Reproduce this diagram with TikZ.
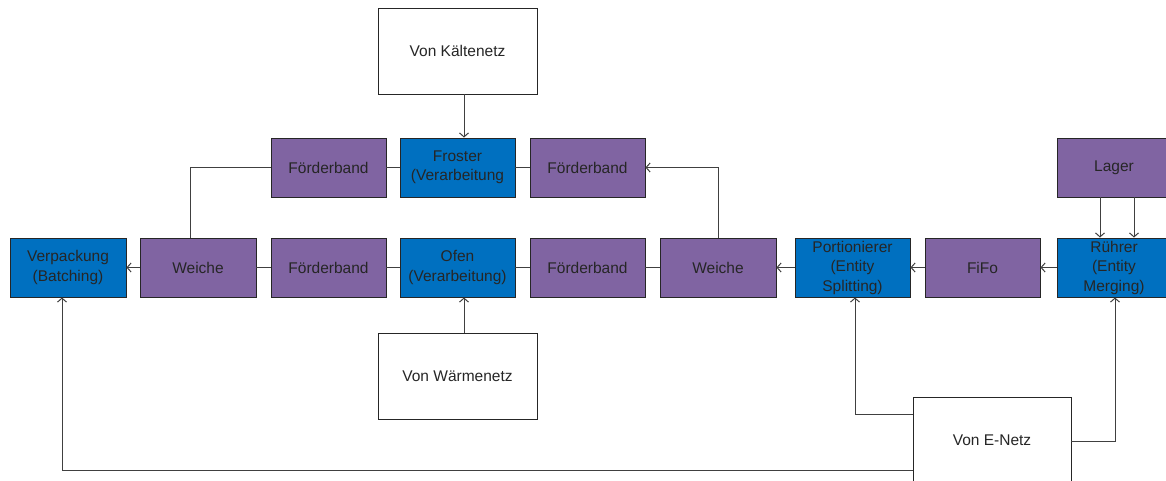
\documentclass[tikz,border=0pt]{standalone}
\usepackage{fontspec}
\setmainfont{Liberation Sans}
\usetikzlibrary{arrows.meta}
\definecolor{purp}{HTML}{8064A2}
\definecolor{blu}{HTML}{0070C0}
\definecolor{ln}{HTML}{404040}
\begin{document}
\begin{tikzpicture}[x=1pt,y=-1pt,
  base/.style={draw=black!85, line width=0.9pt, minimum height=59pt, inner sep=0pt, align=center,
    font=\fontsize{15.5}{19.5}\selectfont, text=black!85},
  pbox/.style={base, fill=purp, minimum width=115pt},
  bbox/.style={base, fill=blu, minimum width=115pt},
  wbox/.style={base, fill=white, minimum width=159pt, minimum height=86pt},
  conn/.style={draw=ln, line width=1pt},
  arr/.style={conn, -{Straight Barb[length=4pt,width=9pt]}}]
\useasboundingbox (0,0) rectangle (1166,481);
\clip (0,0) rectangle (1166,481);
\fill[white] (0,0) rectangle (1166,481);
% row 1
\node[pbox] (fb1) at (328.5,167.5) {Förderband};
\node[bbox] (froster) at (457.5,167.5) {Froster\\(Verarbeitung};
\node[pbox] (fb2) at (587.5,167.5) {Förderband};
\node[pbox, minimum width=114pt] (lager) at (1114,167.5) {Lager};
% row 2
\node[bbox, minimum width=116pt] (verp) at (68,267.5) {Verpackung\\(Batching)};
\node[pbox, minimum width=116pt] (w1) at (198,267.5) {Weiche};
\node[pbox] (fb3) at (328.5,267.5) {Förderband};
\node[bbox] (ofen) at (457.5,267.5) {Ofen\\(Verarbeitung)};
\node[pbox] (fb4) at (587.5,267.5) {Förderband};
\node[pbox, minimum width=116pt] (w2) at (718,267.5) {Weiche};
\node[bbox] (port) at (852.5,267.5) {Portionierer\\(Entity\\Splitting)};
\node[pbox] (fifo) at (982.5,267.5) {FiFo};
\node[bbox, minimum width=114pt] (ruehr) at (1114,267.5) {Rührer\\(Entity\\Merging)};
% white boxes
\node[wbox] (kaelte) at (457.5,51) {Von Kältenetz};
\node[wbox] (waerme) at (457.5,376.5) {Von Wärmenetz};
\node[wbox, minimum width=158pt] (enetz) at (992,440) {Von E-Netz};
% helper coordinates
\coordinate (kx) at (464,0);
\coordinate (c1) at (190,167.5);
\coordinate (c2) at (718,167.5);
\coordinate (l1) at (1100,0);
\coordinate (l2) at (1134,0);
\coordinate (ep) at (855,414);
\coordinate (er) at (1115,441);
\coordinate (ev) at (62,470);
% connectors
\draw[arr] (kaelte.south -| kx) -- (froster.north -| kx);
\draw[arr] (waerme.north -| kx) -- (ofen.south -| kx);
\draw[conn] (fb1) -- (froster);
\draw[conn] (froster) -- (fb2);
\draw[conn] (fb1.west) -- (c1) -- (w1.north -| c1);
\draw[arr] (w2.north) -- (c2) -- (fb2.east);
\draw[arr] (w1) -- (verp);
\draw[conn] (w1) -- (fb3);
\draw[conn] (fb3) -- (ofen);
\draw[conn] (ofen) -- (fb4);
\draw[conn] (fb4) -- (w2);
\draw[arr] (port) -- (w2);
\draw[arr] (fifo) -- (port);
\draw[arr] (ruehr) -- (fifo);
\draw[arr] (lager.south -| l1) -- (ruehr.north -| l1);
\draw[arr] (lager.south -| l2) -- (ruehr.north -| l2);
\draw[arr] (enetz.west |- ep) -- (ep) -- (port.south -| ep);
\draw[arr] (enetz.east |- er) -- (er) -- (ruehr.south -| er);
\draw[arr] (enetz.west |- ev) -- (ev) -- (verp.south -| ev);
\end{tikzpicture}
\end{document}
